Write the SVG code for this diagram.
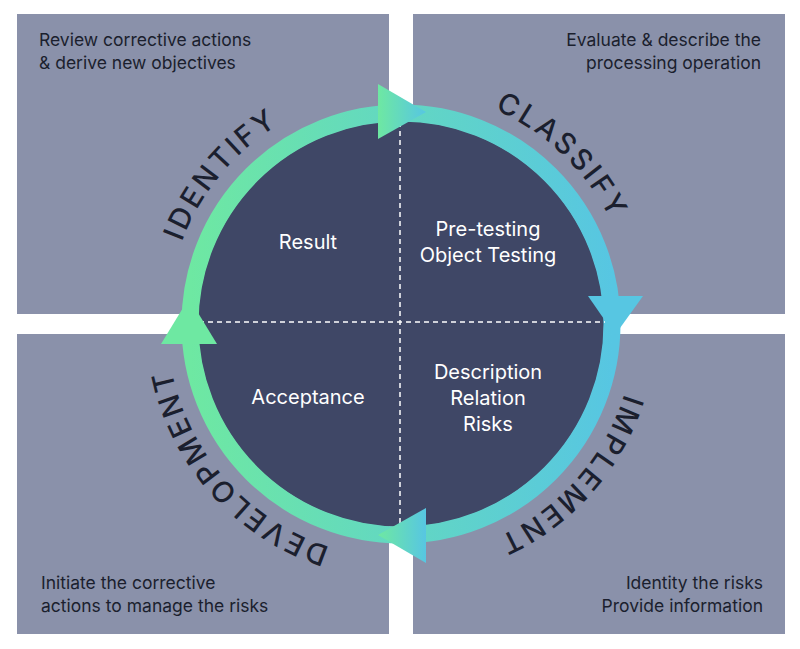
<svg xmlns="http://www.w3.org/2000/svg" xmlns:xlink="http://www.w3.org/1999/xlink" width="800" height="649" viewBox="0 0 800 649">
<defs>
<linearGradient id="g" x1="0" y1="0" x2="1" y2="0"><stop offset="0" stop-color="#6ee8a2"/><stop offset="1" stop-color="#57c6e2"/></linearGradient>
<linearGradient id="gu" gradientUnits="userSpaceOnUse" x1="190" y1="0" x2="612" y2="0"><stop offset="0" stop-color="#6ee8a2"/><stop offset="1" stop-color="#57c6e2"/></linearGradient>
<path id="tp" d="M167,324 A234,234 0 1 1 635,324 A234,234 0 1 1 167,324"/>
<style>
.box{fill:#8a91aa}
.ct{font-family:Inter,"Noto Sans",sans-serif;font-size:17.5px;fill:#1b1f2e}
.in{font-family:Inter,"Noto Sans",sans-serif;font-size:20px;fill:#ffffff;text-anchor:middle}
.arc{font-family:Inter,"Noto Sans",sans-serif;font-size:29px;font-weight:500;fill:#1b1f2e;letter-spacing:3px}
.dash{stroke:#ffffff;stroke-width:1.5;stroke-dasharray:5 4;fill:none}
</style>
</defs>
<rect width="800" height="649" fill="#ffffff"/>
<g id="box-tl"><rect class="box" x="17" y="14" width="372" height="300"/><text class="ct" x="39" y="46">Review corrective actions</text><text class="ct" x="39" y="69">&amp; derive new objectives</text></g>
<g id="box-tr"><rect class="box" x="413" y="14" width="372" height="300"/><text class="ct" x="761" y="46" text-anchor="end">Evaluate &amp; describe the</text><text class="ct" x="761" y="69" text-anchor="end">processing operation</text></g>
<g id="box-bl"><rect class="box" x="17" y="334" width="372" height="300"/><text class="ct" x="41" y="589">Initiate the corrective</text><text class="ct" x="41" y="612">actions to manage the risks</text></g>
<g id="box-br"><rect class="box" x="413" y="334" width="372" height="300"/><text class="ct" x="763" y="589" text-anchor="end">Identity the risks</text><text class="ct" x="763" y="612" text-anchor="end">Provide information</text></g>
<g id="cycle">
<circle cx="401" cy="324" r="203" fill="#3f4766"/>
<circle cx="401" cy="324" r="211" fill="none" stroke="url(#gu)" stroke-width="17"/>
<line class="dash" x1="400" y1="122" x2="400" y2="528"/>
<line class="dash" x1="199" y1="322" x2="605" y2="322"/>
</g>
<g id="connectors">
<polygon points="378,84 378,139 426,112" fill="url(#g)"/>
<polygon points="588,296 643,296 615,335" fill="#57c6e2"/>
<polygon points="426,508 426,563 378,535" fill="url(#g)"/>
<polygon points="161,344 217,344 189,298" fill="#6ee8a2"/>
</g>
<g id="q-result"><text class="in" x="308" y="249">Result</text></g>
<g id="q-pre"><text class="in" x="488" y="236">Pre-testing</text><text class="in" x="488" y="262">Object Testing</text></g>
<g id="q-acc"><text class="in" x="308" y="404">Acceptance</text></g>
<g id="q-desc"><text class="in" x="488" y="379">Description</text><text class="in" x="488" y="405">Relation</text><text class="in" x="488" y="431">Risks</text></g>
<g id="labels">
<text class="arc" text-anchor="middle"><textPath xlink:href="#tp" startOffset="162">IDENTIFY</textPath></text>
<text class="arc" text-anchor="middle"><textPath xlink:href="#tp" startOffset="546">CLASSIFY</textPath></text>
<text class="arc" text-anchor="middle"><textPath xlink:href="#tp" startOffset="905">IMPLEMENT</textPath></text>
<text class="arc" text-anchor="middle"><textPath xlink:href="#tp" startOffset="1300">DEVELOPMENT</textPath></text>
</g>
</svg>
